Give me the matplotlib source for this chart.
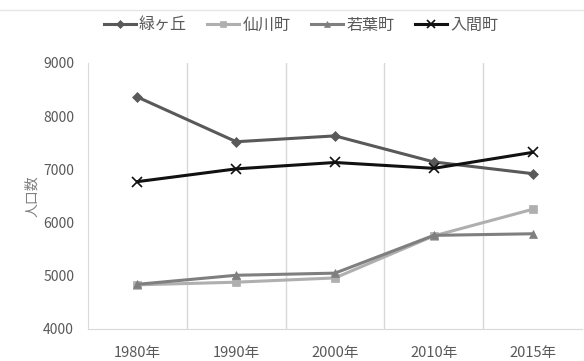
import numpy as np
import matplotlib.pyplot as plt

plt.rcParams['font.family'] = ['Noto Sans CJK JP', 'DejaVu Sans']

years = ['1980年', '1990年', '2000年', '2010年', '2015年']
midorigaoka = [8360, 7520, 7630, 7140, 6920]
sengawa = [4830, 4880, 4960, 5750, 6250]
wakaba = [4840, 5010, 5050, 5760, 5790]
iruma = [6770, 7010, 7130, 7020, 7320]

series = [
    ('緑ヶ丘', midorigaoka, '#595959', 'D', 5),
    ('仙川町', sengawa, '#afafaf', 's', 6),
    ('若葉町', wakaba, '#7f7f7f', '^', 6),
    ('入間町', iruma, '#111111', 'x', 7),
]

fig = plt.figure(figsize=(5.84, 3.61), dpi=100)
ax = fig.add_axes([88/584, 1 - 329/361, 494/584, 266/361])

x = np.arange(len(years))
for name, vals, color, marker, ms in series:
    ax.plot(x, vals, color=color, lw=2.2, marker=marker, markersize=ms,
            markeredgewidth=1.2 if marker == 'x' else 0.5, label=name)

ax.set_xlim(-0.5, len(years) - 0.5)
ax.set_ylim(4000, 9000)
ax.set_yticks(range(4000, 9001, 1000))
ax.set_xticks(x)
ax.set_xticklabels(years)

# category boundaries as vertical gridlines
for b in np.arange(0.5, len(years) - 0.5, 1):
    ax.axvline(b, color='#d9d9d9', lw=1, zorder=0)

for side in ['top', 'right']:
    ax.spines[side].set_visible(False)
for side in ['left', 'bottom']:
    ax.spines[side].set_color('#d9d9d9')
ax.tick_params(length=0, colors='#595959', labelsize=10)
ax.tick_params(axis='x', pad=12, labelsize=10.5)
ax.tick_params(axis='y', pad=10)
ax.set_ylabel('人口数', color='#7f7f7f', fontsize=10, labelpad=3)

ax.legend(loc='upper center', bbox_to_anchor=(0.5 - 34/494, 1.227), ncol=4,
          frameon=False, fontsize=11.5, handlelength=2.0, columnspacing=1.3,
          handletextpad=0.2, labelcolor='#595959', markerscale=0.8)

fig.add_artist(plt.Line2D([0, 1], [1 - 10/361, 1 - 10/361], color='#e6e6e6', lw=1))

fig.savefig('out.png', dpi=100)
